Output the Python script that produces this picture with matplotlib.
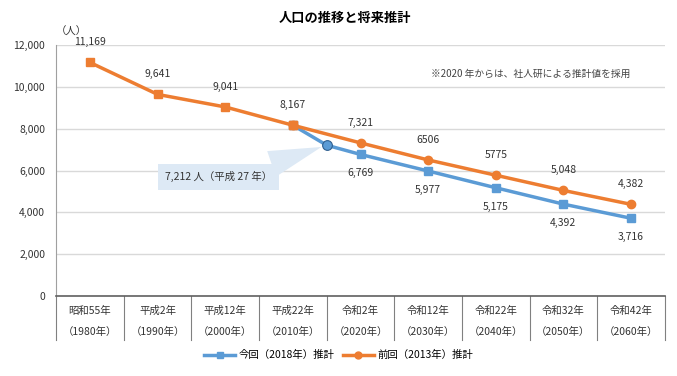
import numpy as np
import matplotlib.pyplot as plt
import matplotlib.transforms as mtransforms
from matplotlib.lines import Line2D

plt.rcParams['font.family'] = ['Noto Sans CJK JP', 'DejaVu Sans']

# データ
years_wareki = ['昭和55年', '平成2年', '平成12年', '平成22年', '令和2年',
                '令和12年', '令和22年', '令和32年', '令和42年']
years_seireki = ['（1980年）', '（1990年）', '（2000年）', '（2010年）', '（2020年）',
                 '（2030年）', '（2040年）', '（2050年）', '（2060年）']
zenkai = [11169, 9641, 9041, 8167, 7321, 6506, 5775, 5048, 4382]
zenkai_labels = ['11,169', '9,641', '9,041', '8,167', '7,321', '6506', '5775', '5,048', '4,382']
konkai_x = [3, 3.5, 4, 5, 6, 7, 8]
konkai = [8167, 7212, 6769, 5977, 5175, 4392, 3716]
konkai_labels = ['6,769', '5,977', '5,175', '4,392', '3,716']

blue = '#5B9BD5'
orange = '#ED7D31'
callout = '#dde9f5'

fig = plt.figure(figsize=(6.77, 3.76), dpi=100)
ax = fig.add_axes([0.083, 0.213, 0.899, 0.667])

x = np.arange(len(zenkai))

# 今回推計（青）
ax.plot(konkai_x, konkai, color=blue, lw=2.5, zorder=3)
ax.plot([konkai_x[0]] + konkai_x[2:], [konkai[0]] + konkai[2:], ls='none',
        marker='s', ms=6, color=blue, zorder=4)
ax.plot(konkai_x[1], konkai[1], ls='none', marker='o', ms=7, mfc=blue,
        mec='#2f5f8f', mew=0.8, zorder=6)

# 前回推計（橙）
ax.plot(x[:4], zenkai[:4], color=orange, lw=2.5, marker='s', ms=6, zorder=5)
ax.plot(x[3:], zenkai[3:], color=orange, lw=2.5, marker='o', ms=6, zorder=5)
ax.plot(x[3], zenkai[3], marker='s', ms=6, color=orange, zorder=5)

# データラベル
for xi, v, lab in zip(x, zenkai, zenkai_labels):
    ax.annotate(lab, (xi, v), xytext=(0, 11), textcoords='offset points',
                ha='center', va='bottom', fontsize=7.5, color='#333333')
for xi, v, lab in zip(konkai_x[2:], konkai[2:], konkai_labels):
    ax.annotate(lab, (xi, v), xytext=(0, -10), textcoords='offset points',
                ha='center', va='top', fontsize=7.5, color='#333333')

# 吹き出し
ax.annotate('7,212 人（平成 27 年）', xy=(konkai_x[1], konkai[1]), xytext=(1.9, 5700),
            ha='center', va='center', fontsize=7.5, color='#333333',
            bbox=dict(boxstyle='square,pad=0.7', fc=callout, ec='none'),
            arrowprops=dict(arrowstyle='wedge,tail_width=2.6,shrink_factor=0.5',
                            fc=callout, ec='none', shrinkA=0, shrinkB=4,
                            relpos=(0.78, 0.95)),
            zorder=2)

ax.text(0.78, 0.885, '※2020 年からは、社人研による推計値を採用', transform=ax.transAxes,
        ha='center', va='center', fontsize=7, color='#444444')

# 軸
ax.set_xlim(-0.5, 8.5)
ax.set_ylim(0, 12000)
ax.set_yticks(np.arange(0, 12001, 2000))
ax.set_yticklabels([f'{v:,}' for v in range(0, 12001, 2000)], fontsize=7.5, color='#333333')
ax.set_xticks([])
ax.grid(axis='y', color='#d9d9d9', lw=1)
ax.set_axisbelow(True)
ax.tick_params(axis='y', length=0, pad=8)
for s in ['top', 'right']:
    ax.spines[s].set_visible(False)
ax.spines['left'].set_color('#a0a0a0')
ax.spines['bottom'].set_color('#606060')
ax.spines['bottom'].set_linewidth(1.2)

# 表形式の横軸ラベル
trans = mtransforms.blended_transform_factory(ax.transData, ax.transAxes)
for b in np.arange(-0.5, 9.0, 1.0):
    ax.plot([b, b], [0, -0.175], transform=trans, color='#808080', lw=0.8, clip_on=False)
for xi, a, b in zip(x, years_wareki, years_seireki):
    ax.text(xi, -0.06, a, transform=trans, ha='center', va='center', fontsize=7.5, color='#333333')
    ax.text(xi, -0.145, b, transform=trans, ha='center', va='center', fontsize=7.5, color='#333333')

fig.text(0.51, 0.952, '人口の推移と将来推計', ha='center', va='center', fontsize=9.5, fontweight='bold')
fig.text(0.105, 0.915, '（人）', ha='center', va='center', fontsize=7.5, color='#333333')

handles = [Line2D([], [], color=blue, lw=2.5, marker='s', ms=5),
           Line2D([], [], color=orange, lw=2.5, marker='o', ms=5)]
fig.legend(handles, ['今回（2018年）推計', '前回（2013年）推計'], loc='center',
           bbox_to_anchor=(0.5, 0.055), ncol=2, frameon=False, fontsize=7.5,
           handlelength=3, columnspacing=0.8, handletextpad=0.3)

fig.savefig('out.png', dpi=100)
